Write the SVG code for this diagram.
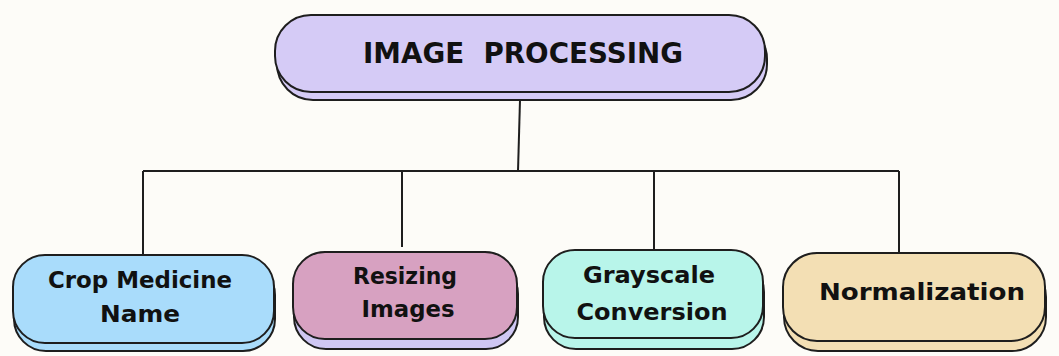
<svg xmlns="http://www.w3.org/2000/svg" width="1059" height="356" viewBox="0 0 1059 356">
<style>
.bg{fill:#fdfcf8}
.box{stroke:#1e1e1e;stroke-width:2}
.conn{stroke:#1e1e1e;stroke-width:2;fill:none}
.t{font-family:"DejaVu Sans","Liberation Sans",sans-serif;font-weight:bold;fill:#111;text-anchor:middle}
.big{font-size:28px}
.sm{font-size:23px}
</style>
<rect class="bg" x="0" y="0" width="1059" height="356"/>
<g id="connectors">
<path class="conn" d="M520 100 L518 171"/>
<path class="conn" d="M143 171 L899 171"/>
<path class="conn" d="M143 171 L143 255"/>
<path class="conn" d="M402 171 L402 247"/>
<path class="conn" d="M654 171 L654 250"/>
<path class="conn" d="M899 171 L899 253"/>
</g>
<g id="image-processing">
<rect class="box" x="277" y="23" width="490" height="77" rx="36" fill="#d5cbf6"/>
<rect class="box" x="275" y="15" width="490" height="77" rx="36" fill="#d5cbf6"/>
<text class="t big" x="523" y="63" textLength="320" lengthAdjust="spacingAndGlyphs">IMAGE&#160; PROCESSING</text>
</g>
<g id="crop-medicine-name">
<rect class="box" x="14" y="263" width="261" height="88" rx="32" fill="#a9dcfb"/>
<rect class="box" x="13" y="255" width="261" height="88" rx="32" fill="#a9dcfb"/>
<text class="t sm" x="140" y="288" textLength="184" lengthAdjust="spacingAndGlyphs">Crop Medicine</text>
<text class="t sm" x="140" y="322" textLength="80" lengthAdjust="spacingAndGlyphs">Name</text>
</g>
<g id="resizing-images">
<rect class="box" x="294" y="262" width="224" height="87" rx="32" fill="#cfc7f3"/>
<rect class="box" x="293" y="252" width="224" height="87" rx="32" fill="#d7a1c1"/>
<text class="t sm" x="405" y="284" textLength="104" lengthAdjust="spacingAndGlyphs">Resizing</text>
<text class="t sm" x="408" y="317" textLength="93" lengthAdjust="spacingAndGlyphs">Images</text>
</g>
<g id="grayscale-conversion">
<rect class="box" x="544" y="260" width="220" height="89" rx="32" fill="#b8f5ea"/>
<rect class="box" x="543" y="250" width="220" height="88" rx="32" fill="#b8f5ea"/>
<text class="t sm" x="649" y="283" textLength="132" lengthAdjust="spacingAndGlyphs">Grayscale</text>
<text class="t sm" x="652" y="320" textLength="151" lengthAdjust="spacingAndGlyphs">Conversion</text>
</g>
<g id="normalization">
<rect class="box" x="784" y="263" width="262" height="88" rx="34" fill="#f3dfb4"/>
<rect class="box" x="783" y="253" width="262" height="88" rx="34" fill="#f3dfb4"/>
<text class="t sm" x="922" y="300" textLength="206" lengthAdjust="spacingAndGlyphs">Normalization</text>
</g>
</svg>
